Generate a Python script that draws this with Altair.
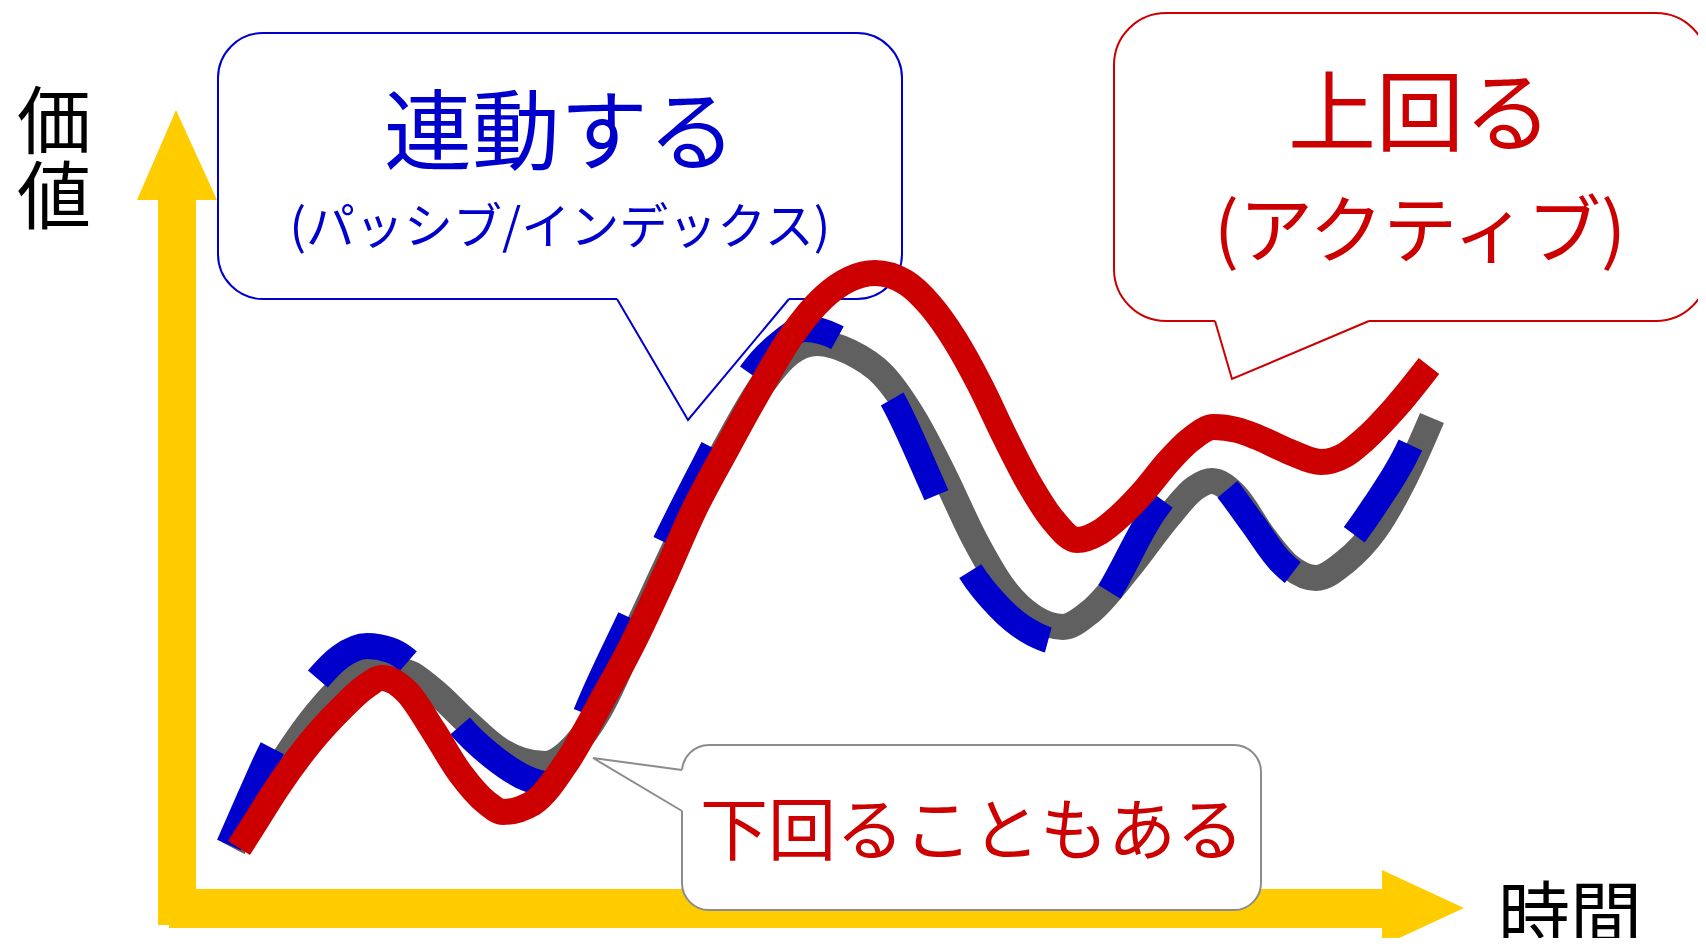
import altair as alt
import pandas as pd

# ---- canvas (drawing units == picture pixels) ----
CANVAS_X = [8, 1698]
CANVAS_Y = [8, 938]
W, H = 1690, 930

# ---- series: index (gray), benchmark-tracking (blue dashed), active (red) ----
index_time = [233, 262, 290, 317, 340, 372, 405, 433, 467, 500, 545, 575, 599, 642, 678, 725, 762, 790, 817, 850,
              883, 915, 944, 975, 1005, 1035, 1063, 1090, 1129, 1170, 1195, 1212, 1235, 1264, 1290, 1316, 1345, 1375, 1405, 1432]
index_value = [848, 795, 750, 713, 688, 670, 672, 690, 722, 750, 764, 745, 711, 618, 541, 448, 385, 353, 343, 352,
               375, 420, 475, 540, 590, 618, 627, 612, 568, 515, 488, 481, 495, 537, 567, 578, 562, 530, 478, 418]

passive_time = [229, 250, 273, 295, 317, 340, 367, 390, 407, 433, 460, 493, 528, 548, 568, 587, 630, 666, 713, 750,
                780, 805, 836, 862, 888, 932, 965, 1000, 1034, 1055, 1080, 1104, 1155, 1180, 1198, 1218, 1250, 1282, 1305, 1322,
                1345, 1375, 1404, 1428]
passive_value = [845, 797, 747, 710, 680, 657, 646, 650, 660, 690, 726, 757, 779, 784, 760, 711, 618, 541, 448, 375,
                 343, 329, 337, 358, 392, 485, 562, 608, 634, 641, 630, 600, 510, 480, 471, 480, 520, 563, 578, 575,
                 547, 505, 458, 405]

active_time = [239, 258, 277, 310, 342, 365, 382, 407, 433, 460, 487, 503, 533, 567, 600, 633, 665, 694, 726, 758,
               790, 824, 850, 875, 905, 930, 955, 980, 1005, 1030, 1053, 1077, 1100, 1121, 1145, 1168, 1190, 1214, 1237, 1257,
               1290, 1321, 1345, 1364, 1395, 1429]
active_value = [848, 818, 788, 743, 708, 687, 678, 692, 730, 773, 803, 812, 803, 762, 704, 643, 575, 510, 450, 392,
                338, 297, 279, 273, 282, 305, 340, 385, 437, 485, 520, 540, 532, 515, 490, 462, 440, 427, 430, 437,
                452, 462, 455, 440, 408, 366]

# ---- texts ----
label_passive = ["連動する", "(パッシブ/インデックス)"]
label_active = ["上回る", "(アクティブ)"]
label_under = "下回ることもある"
label_y = "価\n値"
label_x = "時間"

# ---- annotation geometry ----
axis_y_shaft = dict(x=158, x2=196, y=199, y2=925)
axis_y_head = dict(y=[110, 200], x=[176, 137], x2=[176, 217])
axis_x_shaft = dict(x=169, x2=1383, y=889, y2=928)
axis_x_head = dict(x=[1382, 1464], y=[870, 908], y2=[946, 908])

box_passive = dict(x=218, x2=902, y=33, y2=299)
tail_passive = dict(x=[617, 688, 789], y=[299, 420, 299])
box_active = dict(x=1114, x2=1708, y=13, y2=321)
tail_active = dict(x=[1215, 1232, 1369], y=[321, 379, 321])
box_under = dict(x=682, x2=1261, y=745, y2=910)
tail_under = dict(x=[682, 593, 682], y=[770, 758, 811])

YELLOW = "#FFCC00"
GRAY = "#606060"
BLUE = "#0000CC"
RED = "#CC0000"
BOX_GRAY = "#8C8C8C"
FONT = "Noto Sans CJK JP"

xs = alt.Scale(domain=CANVAS_X, nice=False, zero=False)
ys = alt.Scale(domain=CANVAS_Y, reverse=True, nice=False, zero=False)


def X(f):
    return alt.X(f, type="quantitative", scale=xs, axis=None)


def Y(f):
    return alt.Y(f, type="quantitative", scale=ys, axis=None)


layers = []

# axes (yellow arrows)
for shaft in (axis_y_shaft, axis_x_shaft):
    layers.append(alt.Chart(pd.DataFrame([shaft])).mark_rect(color=YELLOW).encode(
        x=X("x"), x2=alt.X2("x2"), y=Y("y"), y2=alt.Y2("y2")))
layers.append(alt.Chart(pd.DataFrame(axis_y_head)).mark_area(orient="horizontal", color=YELLOW).encode(
    y=Y("y"), x=X("x"), x2=alt.X2("x2")))
layers.append(alt.Chart(pd.DataFrame(axis_x_head)).mark_area(orient="vertical", color=YELLOW).encode(
    x=X("x"), y=Y("y"), y2=alt.Y2("y2")))


def bubble_box(box, color, radius):
    return alt.Chart(pd.DataFrame([box])).mark_rect(
        fill="white", stroke=color, strokeWidth=2, cornerRadius=radius).encode(
        x=X("x"), x2=alt.X2("x2"), y=Y("y"), y2=alt.Y2("y2"))


def bubble_tail_down(tail, color):
    bx0, tx, bx1 = tail["x"]
    by, ty, _ = tail["y"]
    cover = pd.DataFrame({"x": [bx0, tx, bx1], "y": [by - 3] * 3, "y2": [by + 2, ty, by + 2]})
    c = alt.Chart(cover).mark_area(orient="vertical", color="white").encode(
        x=X("x"), y=Y("y"), y2=alt.Y2("y2"))
    ln = pd.DataFrame({"x": tail["x"], "y": tail["y"], "k": [0, 1, 2]})
    l = alt.Chart(ln).mark_line(color=color, strokeWidth=2).encode(
        x=X("x"), y=Y("y"), order="k:O")
    return [c, l]


def bubble_tail_left(tail, color):
    ax, tx, bx = tail["x"]
    ay, ty, by = tail["y"]
    left_at_ay = tx + (ay - ty) * (bx - tx) / (by - ty)
    cover = pd.DataFrame({"y": [ty, ay, by], "x": [tx, left_at_ay, bx], "x2": [tx, ax + 3, ax + 3]})
    c = alt.Chart(cover).mark_area(orient="horizontal", color="white").encode(
        y=Y("y"), x=X("x"), x2=alt.X2("x2"))
    ln = pd.DataFrame({"x": tail["x"], "y": tail["y"], "k": [0, 1, 2]})
    l = alt.Chart(ln).mark_line(color=color, strokeWidth=2).encode(
        x=X("x"), y=Y("y"), order="k:O")
    return [c, l]


layers.append(bubble_box(box_passive, BLUE, 45))
layers += bubble_tail_down(tail_passive, BLUE)
layers.append(bubble_box(box_active, RED, 52))
layers += bubble_tail_down(tail_active, RED)

# series lines
df_index = pd.DataFrame({"t": index_time, "v": index_value})
df_passive = pd.DataFrame({"t": passive_time, "v": passive_value})
df_active = pd.DataFrame({"t": active_time, "v": active_value})

layers.append(alt.Chart(df_index).mark_line(color=GRAY, strokeWidth=26, interpolate="monotone", strokeCap="butt").encode(
    x=X("t"), y=Y("v")))
layers.append(alt.Chart(df_passive).mark_line(color=BLUE, strokeWidth=26, interpolate="monotone", strokeCap="butt",
                                              strokeDash=[106, 83]).encode(x=X("t"), y=Y("v")))
layers.append(alt.Chart(df_active).mark_line(color=RED, strokeWidth=26, interpolate="monotone", strokeCap="butt").encode(
    x=X("t"), y=Y("v")))

# lower bubble (over the x axis)
layers.append(bubble_box(box_under, BOX_GRAY, 27))
layers += bubble_tail_left(tail_under, BOX_GRAY)


def text_layer(txt, x, y, size, color, **kw):
    return alt.Chart(pd.DataFrame({"x": [x], "y": [y], "t": [txt]})).mark_text(
        font=FONT, fontSize=size, color=color, align="center", baseline="middle", **kw).encode(
        x=X("x"), y=Y("y"), text="t:N")


layers.append(text_layer(label_passive[0], 560, 137, 88, BLUE))
layers.append(text_layer(label_passive[1], 560, 229, 49, BLUE))
layers.append(text_layer(label_active[0], 1420, 118, 88, RED))
layers.append(text_layer(label_active[1], 1420, 235, 74, RED))
layers.append(text_layer(label_under, 972, 835, 68, RED))
layers.append(text_layer(label_y, 54, 126, 74, "black", lineBreak="\n", lineHeight=75))
layers.append(text_layer(label_x, 1570, 919, 72, "black"))

chart = alt.layer(*layers).properties(
    width=W, height=H, padding=0, background="white",
    autosize=alt.AutoSizeParams(type="none"),
).configure_view(stroke=None)

chart.save("out.html", embed_options={"renderer": "svg", "actions": False})
